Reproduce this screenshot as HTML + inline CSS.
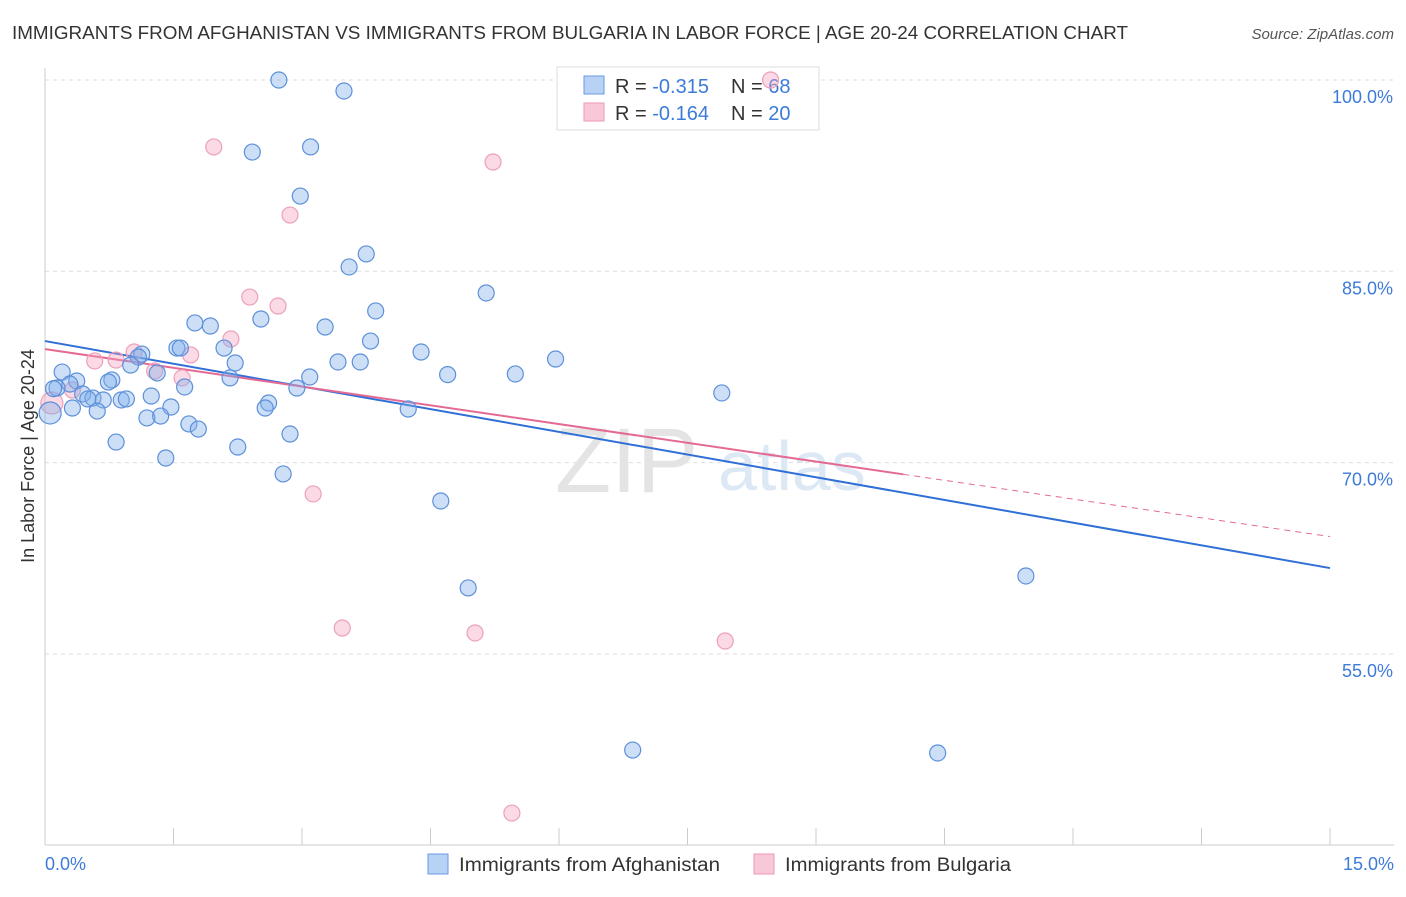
<!DOCTYPE html>
<html><head><meta charset="utf-8"><style>
body{margin:0;background:#fff;font-family:"Liberation Sans",sans-serif;}
svg text{font-family:"Liberation Sans",sans-serif;}
</style></head><body>
<svg id="chart" width="1406" height="892" xmlns="http://www.w3.org/2000/svg">
<text x="12" y="39" font-size="18" fill="#333" textLength="1116" lengthAdjust="spacingAndGlyphs">IMMIGRANTS FROM AFGHANISTAN VS IMMIGRANTS FROM BULGARIA IN LABOR FORCE | AGE 20-24 CORRELATION CHART</text>
<text x="1394" y="39" font-size="15" fill="#555" text-anchor="end" font-style="italic">Source: ZipAtlas.com</text>
<g id="grid"></g>
<text x="555" y="492" font-size="92" fill="#e4e4e4" font-family="Liberation Serif">ZIP</text>
<text x="718" y="490" font-size="70" fill="#dde8f5">atlas</text>
<g>
<rect x="557" y="67" width="262" height="63" fill="#fff" stroke="#ddd"/>
<rect x="584" y="76" width="20" height="18" fill="#b8d2f5" stroke="#6a9ae0"/>
<rect x="584" y="103" width="20" height="18" fill="#f9c8d8" stroke="#ec9ab6"/>
<text x="615" y="93" font-size="20" fill="#333">R = <tspan fill="#3d7bd9">-0.315</tspan><tspan x="731">N = </tspan><tspan fill="#3d7bd9">68</tspan></text>
<text x="615" y="120" font-size="20" fill="#333">R = <tspan fill="#3d7bd9">-0.164</tspan><tspan x="731">N = </tspan><tspan fill="#3d7bd9">20</tspan></text>
</g>
<g id="trend"></g>
<g id="pts"></g>
<text transform="translate(34,456) rotate(-90)" font-size="18" fill="#333" text-anchor="middle">In Labor Force | Age 20-24</text>
<text x="45" y="870" font-size="18" fill="#3d7bd9">0.0%</text>
<text x="1394" y="870" font-size="18" fill="#3d7bd9" text-anchor="end">15.0%</text>
<g>
<rect x="428" y="854" width="20" height="20" fill="#b8d2f5" stroke="#6a9ae0"/>
<text x="459" y="871" font-size="19" fill="#333" textLength="261" lengthAdjust="spacingAndGlyphs">Immigrants from Afghanistan</text>
<rect x="754" y="854" width="20" height="20" fill="#f9c8d8" stroke="#ec9ab6"/>
<text x="785" y="871" font-size="19" fill="#333" textLength="226" lengthAdjust="spacingAndGlyphs">Immigrants from Bulgaria</text>
</g>
</svg>
<script>
const blueX=[2.73,3.49,2.42,3.10,2.98,3.75,3.55,5.15,3.86,2.52,1.75,1.93,3.27,3.80,1.54,1.58,2.09,4.39,1.13,1.09,5.96,3.42,3.68,2.22,1.00,4.70,5.49,0.20,1.31,3.09,2.16,0.37,0.78,0.74,0.29,0.14,1.63,2.94,0.44,7.90,0.56,1.24,0.50,0.68,0.89,0.95,2.61,0.32,2.57,1.47,4.24,0.61,0.06,1.19,1.35,1.68,1.79,2.86,0.83,2.25,1.41,2.78,4.62,11.45,4.94,6.86,10.42,0.10];
const blueY=[100.0,99.14,94.35,94.75,90.90,86.36,85.34,83.30,81.89,81.26,80.95,80.71,80.63,79.53,78.98,78.98,78.98,78.67,78.51,78.28,78.12,77.89,77.89,77.81,77.65,76.90,76.95,77.10,77.03,76.71,76.64,76.40,76.48,76.32,76.16,75.85,75.93,75.85,75.38,75.46,75.06,75.22,74.99,74.91,74.91,74.99,74.67,74.28,74.28,74.36,74.20,74.04,73.89,73.50,73.65,73.03,72.63,72.24,71.61,71.22,70.36,69.11,66.99,61.11,60.17,47.46,47.23,75.8];
const pinkX=[8.47,1.97,5.23,2.86,2.39,2.72,2.17,1.04,1.70,0.83,0.58,1.28,1.60,0.32,0.08,3.13,3.47,5.02,7.94,5.45];
const pinkY=[100.0,94.75,93.57,89.41,82.98,82.28,79.69,78.67,78.44,78.04,77.97,77.18,76.64,75.69,74.67,67.54,57.03,56.64,56.01,42.52];
const blueTrend=[79.53,61.73];
const pinkTrend=[78.9,64.2];
const pinkSolidEnd=10.02;
const yTicks=[100,85,70,55];
const yTickLabels=["100.0%","85.0%","70.0%","55.0%"];
const xTicks=[0,1.5,3,4.5,6,7.5,9,10.5,12,13.5,15];
const NS="http://www.w3.org/2000/svg";
const X=v=>45+v*85.667, Y=v=>80+(100-v)*12.753;
function mk(p,t,a){const e=document.createElementNS(NS,t);for(const k in a)e.setAttribute(k,a[k]);p.appendChild(e);return e;}
const g=document.getElementById('grid');
yTicks.forEach((t,i)=>{
 const l=mk(g,'line',{x1:45,x2:1394,y1:Y(t),y2:Y(t),stroke:'#ddd','stroke-dasharray':'4,4'});
 
 
 const tx=mk(g,'text',{x:1393,y:Y(t)+23,'font-size':18,fill:'#3d7bd9','text-anchor':'end'});
 tx.textContent=yTickLabels[i];
 
 
});
const ax=mk(g,'line',{x1:45,x2:45,y1:68,y2:845,stroke:'#ccc'});


const bx=mk(g,'line',{x1:45,x2:1394,y1:845,y2:845,stroke:'#ccc'});


xTicks.forEach(t=>{
 const l=mk(g,'line',{x1:X(t),x2:X(t),y1:828,y2:845,stroke:'#ccc'});
 
 
});
const tr=document.getElementById('trend');
const b=mk(tr,'line',{x1:X(0),y1:Y(blueTrend[0]),x2:X(15),y2:Y(blueTrend[1]),stroke:'#2f6fd6','stroke-width':2});


const py=v=>pinkTrend[0]+(pinkTrend[1]-pinkTrend[0])*v/15;
const p1=mk(tr,'line',{x1:X(0),y1:Y(py(0)),x2:X(pinkSolidEnd),y2:Y(py(pinkSolidEnd)),stroke:'#e46a94','stroke-width':2});


const p2=mk(tr,'line',{x1:X(pinkSolidEnd),y1:Y(py(pinkSolidEnd)),x2:X(15),y2:Y(py(15)),stroke:'#e46a94','stroke-width':1,'stroke-dasharray':'6,5'});


const pts=document.getElementById('pts');
pinkX.forEach((x,i)=>{
 const c=mk(pts,'circle',{cx:X(x),cy:Y(pinkY[i]),r:i==14?11:8,fill:'rgba(244,160,190,0.4)',stroke:'#eca0ba','stroke-width':1.2});
 
 
});
blueX.forEach((x,i)=>{
 const c=mk(pts,'circle',{cx:X(x),cy:Y(blueY[i]),r:(i==52)?11:8,fill:'rgba(130,175,235,0.4)',stroke:'#5c90da','stroke-width':1.2});
 
 
});
</script>
</body></html>
